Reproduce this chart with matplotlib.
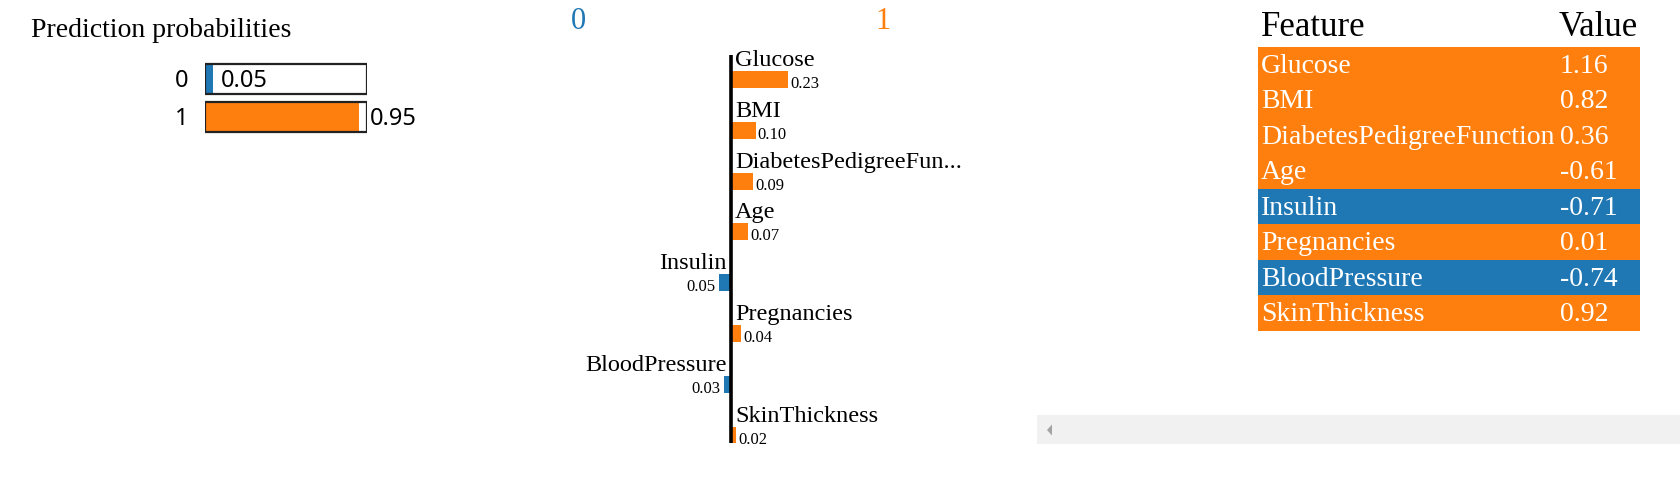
import matplotlib
matplotlib.use("Agg")
import matplotlib.pyplot as plt
from matplotlib.patches import Rectangle, Polygon

# ---------------- data ----------------
class_names = ["0", "1"]
class_probs = [0.05, 0.95]

features = ["Glucose", "BMI", "DiabetesPedigreeFun...", "Age", "Insulin",
            "Pregnancies", "BloodPressure", "SkinThickness"]
weights = [0.23, 0.10, 0.09, 0.07, -0.05, 0.04, -0.03, 0.02]

table_features = ["Glucose", "BMI", "DiabetesPedigreeFunction", "Age", "Insulin",
                  "Pregnancies", "BloodPressure", "SkinThickness"]
table_values = ["1.16", "0.82", "0.36", "-0.61", "-0.71", "0.01", "-0.74", "0.92"]

BLUE = "#1f77b4"
ORANGE = "#ff7f0e"
class_colors = [BLUE, ORANGE]

W, H = 1681, 484
fig = plt.figure(figsize=(W / 100, H / 100), dpi=100)
fig.patch.set_facecolor("white")

SERIF = ["Liberation Serif", "DejaVu Serif"]
SANS = ["Noto Sans", "DejaVu Sans"]


def rect(x0, y0, x1, y1):
    return [x0 / W, 1 - y1 / H, (x1 - x0) / W, (y1 - y0) / H]


def clean(ax):
    ax.set_xticks([])
    ax.set_yticks([])
    for s in ax.spines.values():
        s.set_visible(False)
    ax.patch.set_alpha(0)


# ---------------- prediction probabilities ----------------
fig.text(31 / W, 1 - 37 / H, "Prediction probabilities", family=SERIF,
         fontsize=20, va="baseline", ha="left")

axp = fig.add_axes(rect(205, 60, 367, 136))
clean(axp)
axp.set_xlim(0, 1)
axp.set_ylim(1.5, -0.5)
ypos = list(range(len(class_names)))
axp.barh(ypos, class_probs, height=0.78, color=class_colors, zorder=1)
axp.barh(ypos, [1] * len(ypos), height=0.78, facecolor="none",
         edgecolor="#222222", linewidth=1.6, zorder=2)
dy = 0.05
for i, (n, p) in enumerate(zip(class_names, class_probs)):
    axp.text(-0.1, i + dy, n, family=SANS, fontsize=17, ha="right", va="center")
    if p < 0.5:
        axp.text(0.1, i + dy, f"{p:.2f}", family=SANS, fontsize=17, ha="left", va="center")
    else:
        axp.text(1.02, i + dy, f"{p:.2f}", family=SANS, fontsize=17, ha="left", va="center")

# ---------------- feature contributions ----------------
fig.text(578 / W, 1 - 29 / H, class_names[0], family=SERIF, fontsize=22,
         color=BLUE, ha="center", va="baseline")
fig.text(883 / W, 1 - 29 / H, class_names[1], family=SERIF, fontsize=22,
         color=ORANGE, ha="center", va="baseline")

scale = 248.0
axf = fig.add_axes(rect(731 - 200, 55, 731 + 200, 443))
clean(axf)
axf.set_xlim(-200 / scale, 200 / scale)
axf.set_ylim(7.154, -0.482)
yf = list(range(len(features)))
bh = 17 / 50.8
cols = [ORANGE if w > 0 else BLUE for w in weights]
axf.barh(yf, weights, height=bh, color=cols, zorder=1)
axf.axvline(0, color="black", lw=2.6, zorder=3)
off = 4 / scale
for i, (f, w) in enumerate(zip(features, weights)):
    if w > 0:
        axf.text(off, i - 0.266, f, family=SERIF, fontsize=17.5, ha="left", va="baseline")
        axf.text(w + 2 / scale, i + bh / 2, f"{abs(w):.2f}", family=SERIF,
                 fontsize=12, ha="left", va="baseline")
    else:
        axf.text(-off, i - 0.266, f, family=SERIF, fontsize=17.5, ha="right", va="baseline")
        axf.text(w - 3 / scale, i + bh / 2, f"{abs(w):.2f}", family=SERIF,
                 fontsize=12, ha="right", va="baseline")

# ---------------- table ----------------
row_h = 35.5
top = 46.7
axt = fig.add_axes(rect(1258, 0, 1640, 331))
clean(axt)
axt.set_xlim(0, 382)
axt.set_ylim(7.5, -0.5 - top / row_h)
yt = list(range(len(table_features)))
tcols = [ORANGE if w > 0 else BLUE for w in weights]
axt.barh(yt, [382] * len(yt), height=1.0, color=tcols, left=0)
hy = -0.5 - (top - 36) / row_h
axt.text(3, hy, "Feature", family=SERIF, fontsize=25, ha="left", va="baseline")
axt.text(301, hy, "Value", family=SERIF, fontsize=25, ha="left", va="baseline")
by = 0.5 - 9.7 / row_h
for i, (f, v) in enumerate(zip(table_features, table_values)):
    axt.text(3, i + by, f, family=SERIF, fontsize=20, color="white",
             ha="left", va="baseline")
    axt.text(302, i + by, v, family=SERIF, fontsize=20, color="white",
             ha="left", va="baseline")

# ---------------- scrollbar decoration ----------------
fig.patches.append(Rectangle((1037 / W, 1 - 444 / H), (W - 1037) / W, 29 / H,
                             transform=fig.transFigure, facecolor="#f1f1f1",
                             edgecolor="none"))
fig.patches.append(Polygon([(1047 / W, 1 - 430 / H), (1052 / W, 1 - 424.5 / H),
                            (1052 / W, 1 - 435.5 / H)], closed=True,
                           transform=fig.transFigure, facecolor="#a3a3a3",
                           edgecolor="none"))

fig.savefig("out.png", dpi=100)
